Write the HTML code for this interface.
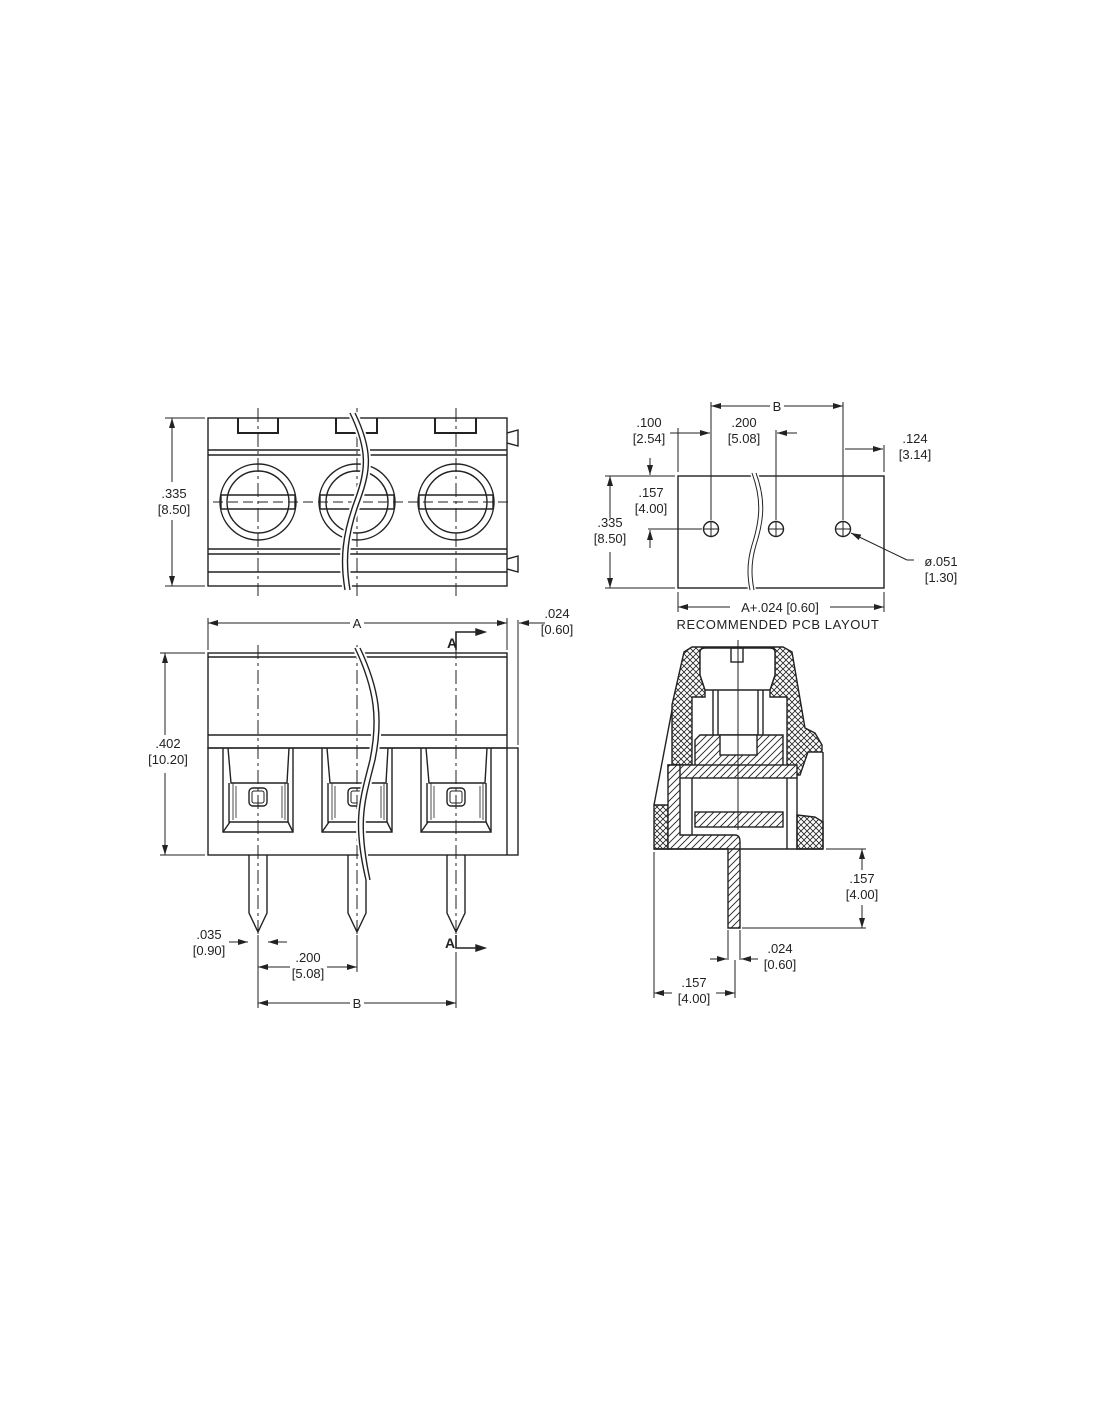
<!DOCTYPE html>
<html><head><meta charset="utf-8"><style>
html,body{margin:0;padding:0;background:#fff;}
svg{display:block}
text{font-family:"Liberation Sans",sans-serif;font-size:13px;fill:#222;}
</style></head><body>
<svg width="1100" height="1422" viewBox="0 0 1100 1422" xmlns="http://www.w3.org/2000/svg">
<defs>
<pattern id="ch" width="6" height="6" patternUnits="userSpaceOnUse">
<rect width="6" height="6" fill="#fff"/>
<path d="M0,0L6,6M6,0L0,6" stroke="#222" stroke-width="0.8"/>
</pattern>
<pattern id="dg" width="7" height="7" patternUnits="userSpaceOnUse">
<rect width="7" height="7" fill="#fff"/>
<path d="M0,7L7,0M-1,1L1,-1M6,8L8,6" stroke="#222" stroke-width="0.9"/>
</pattern>
<marker id="ar" viewBox="0 0 10 6" refX="10" refY="3" markerWidth="10" markerHeight="6" orient="auto-start-reverse" markerUnits="userSpaceOnUse"><path d="M0,0L10,3L0,6z" fill="#222"/></marker>
</defs>
<g stroke="#222" stroke-width="1.4" fill="none">
<!-- TOP VIEW -->
<rect x="208" y="418" width="299" height="168"/>
<line x1="208" y1="450" x2="507" y2="450"/><line x1="208" y1="455" x2="507" y2="455"/>
<line x1="208" y1="549" x2="507" y2="549"/><line x1="208" y1="554" x2="507" y2="554"/>
<line x1="208" y1="572" x2="507" y2="572"/>
<path d="M238,418V433H278V418M336,418V433H377V418M435,418V433H476V418" stroke-width="2"/>
<path d="M507,433L518,430V446L507,443M507,559L518,556V572L507,569"/>
<g>
<circle cx="258" cy="502" r="38"/><circle cx="258" cy="502" r="31"/>
<circle cx="357" cy="502" r="38"/><circle cx="357" cy="502" r="31"/>
<circle cx="456" cy="502" r="38"/><circle cx="456" cy="502" r="31"/>
</g>
<path d="M221,495H295M221,509H295M320,495H394M320,509H394M419,495H493M419,509H493"/>
<path d="M221,495V509M295,495V509M320,495V509M394,495V509M419,495V509M493,495V509"/>
<g stroke-width="1" stroke-dasharray="14,4,3,4">
<line x1="258" y1="408" x2="258" y2="596"/><line x1="357" y1="408" x2="357" y2="596"/><line x1="456" y1="408" x2="456" y2="596"/>
</g>
<line x1="213" y1="502" x2="513" y2="502" stroke-width="1" stroke-dasharray="10,5"/>
<path d="M350,413C368,450 366,470 355,500C342,535 340,560 345,590M355,413C373,450 371,470 360,500C347,535 345,560 350,590" stroke="#fff" stroke-width="5"/>
<path d="M350,413C368,450 366,470 355,500C342,535 340,560 345,590M355,413C373,450 371,470 360,500C347,535 345,560 350,590"/>
<!-- .335 dim -->
<line x1="165" y1="418" x2="205" y2="418" stroke-width="1"/><line x1="165" y1="586" x2="205" y2="586" stroke-width="1"/>
<line x1="172" y1="418" x2="172" y2="482" stroke-width="1" marker-start="url(#ar)"/>
<line x1="172" y1="520" x2="172" y2="586" stroke-width="1" marker-end="url(#ar)"/>

<!-- FRONT VIEW -->
<rect x="208" y="653" width="299" height="95"/>
<line x1="208" y1="657" x2="507" y2="657"/>
<line x1="208" y1="735" x2="507" y2="735"/>
<rect x="208" y="748" width="310" height="107"/>
<line x1="507" y1="748" x2="507" y2="855"/>
<g id="win">
<path d="M223,748V832H293V748"/>
<path d="M228,748L231,783H287L289,748"/>
<path d="M229,783V822H288V783"/>
<path d="M223,832L230,822M293,832L288,822"/>
<path d="M233,783V820M285,783V820M236,786V818M282,786V818" stroke-width="0.8"/>
<rect x="249" y="788" width="18" height="18" rx="4"/>
<rect x="252" y="791" width="12" height="12" rx="2" stroke-width="1"/>
</g>
<use href="#win" x="99"/><use href="#win" x="198"/>
<!-- pins -->
<path d="M249,855V913L258,932L267,913V855"/>
<path d="M348,855V913L357,932L366,913V855"/>
<path d="M447,855V913L456,932L465,913V855"/>
<g stroke-width="1" stroke-dasharray="14,4,3,4">
<line x1="258" y1="645" x2="258" y2="945"/><line x1="357" y1="645" x2="357" y2="945"/><line x1="456" y1="645" x2="456" y2="945"/>
</g>
<path d="M355,648C375,690 378,720 370,760C360,800 352,820 366,880M360,648C380,690 383,720 375,760C365,800 357,820 370,880" stroke="#fff" stroke-width="5"/>
<path d="M355,648C375,690 378,720 370,760C360,800 352,820 366,880M360,648C380,690 383,720 375,760C365,800 357,820 370,880"/>
<!-- A dim -->
<line x1="208" y1="618" x2="208" y2="650" stroke-width="1"/><line x1="507" y1="618" x2="507" y2="650" stroke-width="1"/>
<line x1="208" y1="623" x2="350" y2="623" stroke-width="1" marker-start="url(#ar)"/>
<line x1="364" y1="623" x2="507" y2="623" stroke-width="1" marker-end="url(#ar)"/>
<line x1="518" y1="620" x2="518" y2="745" stroke-width="1"/>
<line x1="545" y1="623" x2="519" y2="623" stroke-width="1" marker-end="url(#ar)"/>
<!-- section arrows -->
<path d="M456,650V632H476" stroke-width="1.6"/><path d="M476,629L485,632L476,635z" fill="#222"/>
<path d="M456,935V948H476" stroke-width="1.6"/><path d="M476,945L485,948L476,951z" fill="#222"/>
<!-- .402 -->
<line x1="160" y1="653" x2="205" y2="653" stroke-width="1"/><line x1="160" y1="855" x2="205" y2="855" stroke-width="1"/>
<line x1="165" y1="653" x2="165" y2="735" stroke-width="1" marker-start="url(#ar)"/>
<line x1="165" y1="773" x2="165" y2="855" stroke-width="1" marker-end="url(#ar)"/>
<!-- .035 -->
<line x1="229" y1="942" x2="248" y2="942" stroke-width="1" marker-end="url(#ar)"/>
<line x1="287" y1="942" x2="268" y2="942" stroke-width="1" marker-end="url(#ar)"/>
<line x1="258" y1="935" x2="258" y2="1008" stroke-width="1"/>
<line x1="357" y1="935" x2="357" y2="972" stroke-width="1"/>
<line x1="456" y1="952" x2="456" y2="1008" stroke-width="1"/>
<line x1="258" y1="967" x2="290" y2="967" stroke-width="1" marker-start="url(#ar)"/>
<line x1="327" y1="967" x2="357" y2="967" stroke-width="1" marker-end="url(#ar)"/>
<line x1="258" y1="1003" x2="350" y2="1003" stroke-width="1" marker-start="url(#ar)"/>
<line x1="364" y1="1003" x2="456" y2="1003" stroke-width="1" marker-end="url(#ar)"/>

<!-- PCB LAYOUT -->
<rect x="678" y="476" width="206" height="112"/>
<circle cx="711" cy="529" r="7.5"/><circle cx="776" cy="529" r="7.5"/><circle cx="843" cy="529" r="7.5"/>
<path d="M703,529H719M711,521V537M768,529H784M776,521V537M835,529H851M843,521V537" stroke-width="1"/>
<path d="M752,473C762,500 760,520 752,545C746,565 748,580 750,590M756,473C766,500 764,520 756,545C750,565 752,580 754,590" stroke="#fff" stroke-width="4"/>
<path d="M752,473C762,500 760,520 752,545C746,565 748,580 750,590M756,473C766,500 764,520 756,545C750,565 752,580 754,590" stroke-width="1"/>
<g stroke-width="1">
<line x1="711" y1="402" x2="711" y2="520"/><line x1="776" y1="430" x2="776" y2="520"/><line x1="843" y1="402" x2="843" y2="520"/>
<line x1="711" y1="406" x2="770" y2="406" marker-start="url(#ar)"/><line x1="784" y1="406" x2="843" y2="406" marker-end="url(#ar)"/>
<line x1="678" y1="428" x2="678" y2="472"/><line x1="884" y1="445" x2="884" y2="472"/>
<line x1="670" y1="433" x2="710" y2="433" marker-end="url(#ar)"/>
<line x1="797" y1="433" x2="777" y2="433" marker-end="url(#ar)"/>
<line x1="845" y1="449" x2="883" y2="449" marker-end="url(#ar)"/>
<line x1="605" y1="476" x2="675" y2="476"/><line x1="605" y1="588" x2="675" y2="588"/>
<line x1="610" y1="476" x2="610" y2="518" marker-start="url(#ar)"/>
<line x1="610" y1="552" x2="610" y2="588" marker-end="url(#ar)"/>
<line x1="650" y1="458" x2="650" y2="475" marker-end="url(#ar)"/>
<line x1="650" y1="548" x2="650" y2="530" marker-end="url(#ar)"/>
<line x1="648" y1="529" x2="702" y2="529"/>
<line x1="851" y1="533" x2="907" y2="560" marker-start="url(#ar)"/><line x1="907" y1="560" x2="914" y2="560"/>
<line x1="678" y1="592" x2="678" y2="612"/><line x1="884" y1="592" x2="884" y2="612"/>
<line x1="678" y1="607" x2="730" y2="607" marker-start="url(#ar)"/>
<line x1="830" y1="607" x2="884" y2="607" marker-end="url(#ar)"/>
</g>

<!-- SECTION VIEW -->
<path d="M672,765L672,705L684,652L692,647H783L792,652L805,728L815,733L822,745V752H808L800,775H787V697H770V690L775,675V650H700V675L705,690V697H692V765Z" fill="url(#ch)"/>
<path d="M654,805H668V849H654Z" fill="url(#ch)"/>
<path d="M797,815L815,817L823,822V849H797Z" fill="url(#ch)"/>
<path d="M700,652Q700,648 705,648H770Q775,648 775,652V675L770,690H705L700,675Z" fill="#fff"/>
<rect x="731" y="648" width="12" height="14"/>
<line x1="713" y1="690" x2="713" y2="735"/><line x1="718" y1="690" x2="718" y2="735"/>
<line x1="758" y1="690" x2="758" y2="735"/><line x1="763" y1="690" x2="763" y2="735"/>
<path d="M700,735H783V768H695V740Z" fill="url(#dg)"/>
<rect x="720" y="735" width="37" height="20" fill="#fff"/>
<rect x="668" y="765" width="129" height="13" fill="url(#dg)"/>
<rect x="695" y="812" width="88" height="15" fill="url(#dg)"/>
<path d="M668,765H680V835H735Q740,835 740,842V928H728V849H668Z" fill="url(#dg)"/>
<line x1="692" y1="778" x2="692" y2="835"/><line x1="787" y1="778" x2="787" y2="849"/><line x1="797" y1="778" x2="797" y2="849"/>
<line x1="654" y1="849" x2="823" y2="849"/>
<line x1="654" y1="805" x2="672" y2="710"/>
<line x1="823" y1="752" x2="823" y2="849"/>
<line x1="738" y1="640" x2="738" y2="830" stroke-width="1"/>
<g stroke-width="1">
<line x1="826" y1="849" x2="866" y2="849"/><line x1="742" y1="928" x2="866" y2="928"/>
<line x1="862" y1="849" x2="862" y2="870" marker-start="url(#ar)"/>
<line x1="862" y1="905" x2="862" y2="928" marker-end="url(#ar)"/>
<line x1="728" y1="930" x2="728" y2="960"/><line x1="740" y1="930" x2="740" y2="960"/>
<line x1="710" y1="959" x2="727" y2="959" marker-end="url(#ar)"/>
<line x1="758" y1="959" x2="741" y2="959" marker-end="url(#ar)"/>
<line x1="654" y1="852" x2="654" y2="998"/><line x1="735" y1="960" x2="735" y2="998"/>
<line x1="654" y1="993" x2="672" y2="993" marker-start="url(#ar)"/>
<line x1="716" y1="993" x2="735" y2="993" marker-end="url(#ar)"/>
</g>
</g>
<g>
<text x="174" y="498" text-anchor="middle">.335</text><text x="174" y="514" text-anchor="middle">[8.50]</text>
<text x="357" y="628" text-anchor="middle">A</text>
<text x="557" y="618" text-anchor="middle">.024</text><text x="557" y="634" text-anchor="middle">[0.60]</text>
<text x="452" y="648" text-anchor="middle" style="font-weight:bold;font-size:14px">A</text>
<text x="450" y="948" text-anchor="middle" style="font-weight:bold;font-size:14px">A</text>
<text x="168" y="748" text-anchor="middle">.402</text><text x="168" y="764" text-anchor="middle">[10.20]</text>
<text x="209" y="939" text-anchor="middle">.035</text><text x="209" y="955" text-anchor="middle">[0.90]</text>
<text x="308" y="962" text-anchor="middle">.200</text><text x="308" y="978" text-anchor="middle">[5.08]</text>
<text x="357" y="1008" text-anchor="middle">B</text>
<text x="777" y="411" text-anchor="middle">B</text>
<text x="649" y="427" text-anchor="middle">.100</text><text x="649" y="443" text-anchor="middle">[2.54]</text>
<text x="744" y="427" text-anchor="middle">.200</text><text x="744" y="443" text-anchor="middle">[5.08]</text>
<text x="915" y="443" text-anchor="middle">.124</text><text x="915" y="459" text-anchor="middle">[3.14]</text>
<text x="651" y="497" text-anchor="middle">.157</text><text x="651" y="513" text-anchor="middle">[4.00]</text>
<text x="610" y="527" text-anchor="middle">.335</text><text x="610" y="543" text-anchor="middle">[8.50]</text>
<text x="941" y="566" text-anchor="middle">ø.051</text><text x="941" y="582" text-anchor="middle">[1.30]</text>
<text x="780" y="612" text-anchor="middle">A+.024  [0.60]</text>
<text x="778" y="629" text-anchor="middle" style="letter-spacing:0.6px">RECOMMENDED  PCB  LAYOUT</text>
<text x="862" y="883" text-anchor="middle">.157</text><text x="862" y="899" text-anchor="middle">[4.00]</text>
<text x="780" y="953" text-anchor="middle">.024</text><text x="780" y="969" text-anchor="middle">[0.60]</text>
<text x="694" y="987" text-anchor="middle">.157</text><text x="694" y="1003" text-anchor="middle">[4.00]</text>
</g>
</svg>
</body></html>
